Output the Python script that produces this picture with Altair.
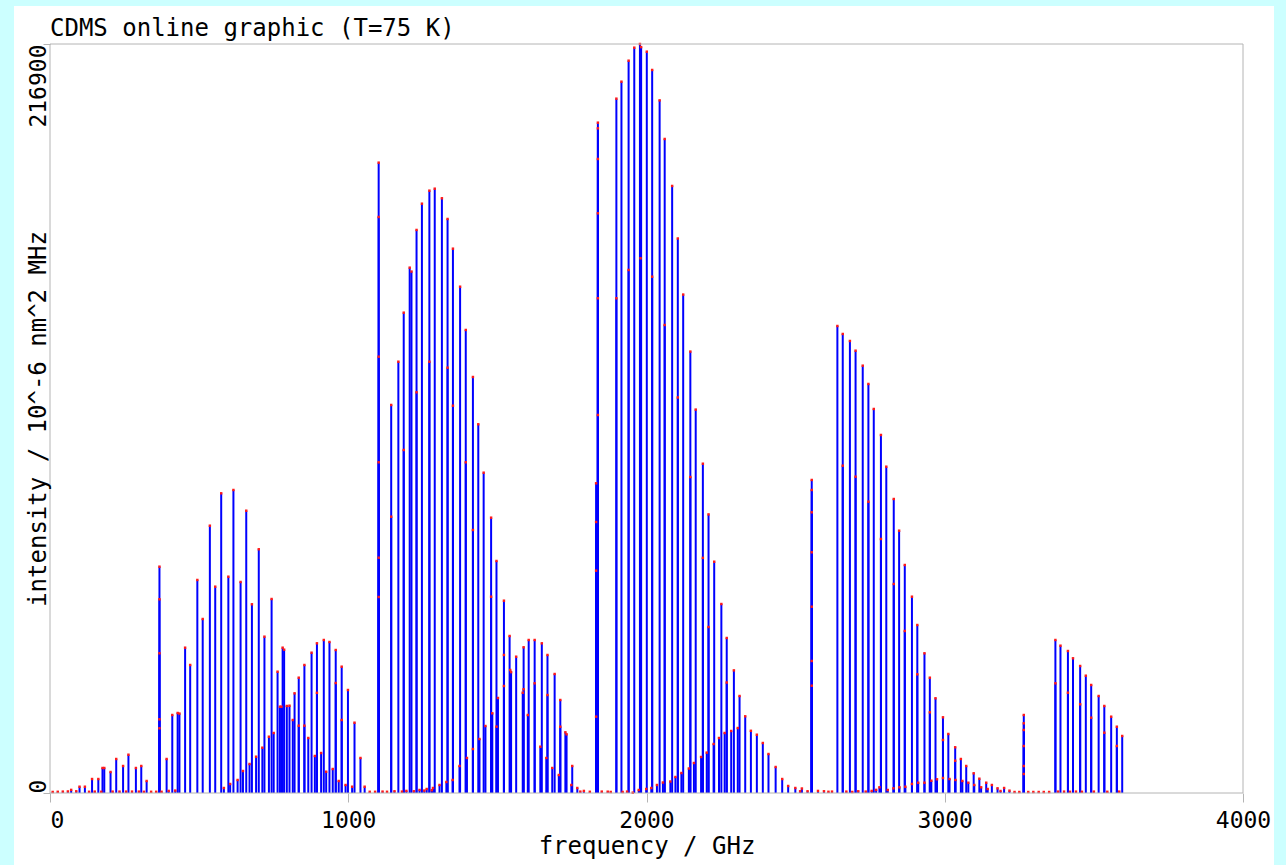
import altair as alt
import pandas as pd

FONT = "DejaVu Sans Mono"
GRAY = "#b4b4b4"
TITLE = "CDMS online graphic (T=75 K)"

# (frequency GHz, intensity 10^-6 nm^2 MHz)
tiny = [(9, 300), (26, 350), (43, 400), (60, 450), (71, 900), (88, 500), (131, 350), (150, 400),
        (172, 350), (210, 400), (233, 400), (255, 400), (275, 400), (298, 400), (315, 350), (339, 350),
        (356, 350), (374, 350), (398, 600), (420, 700), (1055, 1820), (1072, 350), (1090, 350),
        (1115, 400), (1130, 350), (1155, 500), (1180, 400), (1195, 600), (1220, 500), (1255, 700),
        (1280, 800), (1778, 400), (1790, 600), (1810, 350), (1850, 400), (1880, 300), (1920, 300),
        (1935, 400), (2515, 500), (2521, 1300), (2540, 500), (2575, 600), (2595, 500), (2610, 350),
        (2622, 400), (2670, 400), (2690, 300), (2710, 500), (2735, 400), (2755, 600), (2770, 900),
        (3187, 580), (3199, 1450), (3217, 670), (3234, 290), (3250, 290), (3280, 290), (3297, 290),
        (3315, 290), (3332, 290), (3350, 290), (3380, 400), (3400, 400), (3420, 350), (3440, 400),
        (3460, 350), (3500, 400), (3545, 350), (3585, 400)]

band1_small = [(99, 1820), (117, 1820), (141, 4050), (162, 4050), (176, 7240), (182, 7240), (203, 6080),
               (222, 9850), (245, 7820), (263, 11090), (288, 7240), (306, 7820), (324, 3480)]

band1_main = [(367, 65540), (367, 56100), (367, 40460), (367, 21340), (367, 18740), (391, 9850),
              (410, 22590), (428, 23170), (434, 23000), (453, 42080), (470, 37070), (494, 61690),
              (512, 50390), (536, 77410), (554, 59750), (574, 86790), (598, 62640), (615, 87750),
              (639, 61110), (658, 81750), (677, 54650), (700, 70580), (719, 45270), (743, 56180),
              (763, 35130), (780, 42080), (785, 41500), (803, 25280), (820, 28870), (834, 33390),
              (853, 37070), (877, 40630), (895, 43350), (895, 29000), (918, 44310), (937, 43730),
              (958, 41410), (958, 31850), (978, 36580), (978, 21140), (999, 29830), (1021, 20360),
              (1041, 10140)]

band1_second = [(583, 1450), (604, 2610), (629, 3770), (647, 6370), (669, 8400), (691, 10510),
                (712, 13120), (734, 16300), (750, 17380), (771, 25000), (776, 24990), (794, 25200),
                (814, 21140), (834, 19500), (853, 19500), (866, 15930), (888, 10720), (909, 11580),
                (926, 6170), (948, 6950), (968, 3480), (991, 2320), (1013, 1820)]

band2_main = [(1102, 182540), (1102, 166810), (1102, 126350), (1102, 95770), (1102, 68140),
              (1102, 56760), (1144, 112370), (1144, 80020), (1168, 124900), (1186, 139100),
              (1186, 99330), (1206, 152130), (1212, 151000), (1229, 163050), (1229, 116040),
              (1247, 170660), (1272, 174430), (1272, 124900), (1290, 175000), (1314, 172230),
              (1333, 166230), (1333, 123170), (1351, 157630), (1351, 112160), (1375, 146620),
              (1394, 134090), (1394, 95770), (1418, 120470), (1418, 76160), (1436, 106780),
              (1454, 92760), (1479, 79730), (1479, 56850), (1497, 67190), (1497, 19200),
              (1522, 55690), (1522, 39970), (1522, 30990), (1541, 45470), (1563, 39470),
              (1588, 42200), (1588, 30030), (1605, 44310), (1625, 44310), (1625, 31770),
              (1649, 43350), (1668, 39970), (1668, 28380), (1692, 34460), (1711, 26930),
              (1711, 19200), (1728, 17580), (1732, 17000), (1751, 7820), (1768, 1450)]

band2_second = [(1239, 870), (1263, 1160), (1284, 1450), (1306, 2320), (1329, 3190), (1350, 3770),
                (1373, 7820), (1398, 10140), (1418, 12740), (1440, 15640), (1460, 19400),
                (1483, 23080), (1502, 27510), (1543, 35620), (1546, 35000), (1585, 29050),
                (1602, 22590), (1644, 13410), (1664, 10140), (1684, 7240), (1706, 5210), (1748, 2320)]

band3_main = [(1831, 89690), (1831, 78480), (1831, 64380), (1831, 22100), (1837, 194120),
              (1837, 192490), (1837, 183610), (1837, 167880), (1837, 143270), (1837, 109470),
              (1899, 201070), (1899, 143270), (1916, 205990), (1940, 212070), (1940, 151460),
              (1959, 215840), (1978, 216900), (1982, 216000), (1980, 154850), (2001, 214680),
              (2019, 209380), (2019, 149520), (2044, 200580), (2061, 189400), (2061, 135530),
              (2086, 175790), (2105, 160580), (2105, 114540), (2123, 144340), (2147, 127830),
              (2147, 91510), (2165, 111030), (2189, 95360), (2189, 68090), (2208, 80680),
              (2208, 48070), (2227, 66980), (2251, 54730), (2269, 44890), (2269, 32000),
              (2293, 35510), (2312, 28090), (2331, 22210), (2350, 18010), (2370, 16880),
              (2390, 14480), (2409, 11290), (2433, 7530), (2455, 4050), (2475, 2030), (2499, 1450)]

band3_second = [(1870, 380), (1954, 90), (1974, 870), (1999, 1160), (2016, 1450), (2035, 2320),
                (2055, 3040), (2080, 3330), (2097, 4630), (2117, 5790), (2142, 7100), (2159, 8690),
                (2183, 10430), (2202, 11700), (2225, 14190), (2243, 15930), (2262, 17380),
                (2284, 17960), (2306, 18820)]

band4_main = [(2554, 90650), (2554, 87750), (2554, 81290), (2554, 69710), (2554, 53950),
              (2554, 38230), (2554, 31070), (2640, 135240), (2658, 132930), (2658, 94790),
              (2682, 130900), (2701, 128090), (2701, 91600), (2725, 123750), (2744, 118450),
              (2744, 84360), (2762, 111210), (2786, 103680), (2786, 73560), (2804, 94500),
              (2829, 85140), (2829, 60530), (2847, 75960), (2866, 66030), (2866, 46920),
              (2890, 56850), (2908, 48650), (2908, 34370), (2932, 40460), (2950, 33390),
              (2950, 23370), (2969, 27430), (2994, 21920), (2994, 15350), (3012, 17090),
              (3035, 13240), (3035, 9350), (3054, 9850), (3072, 7820), (3097, 5710), (3116, 4140),
              (3139, 2980), (3158, 2320), (3177, 1360)]

band4_second = [(2781, 1650), (2809, 870), (2828, 1360), (2848, 1650), (2868, 1820), (2890, 2610),
                (2911, 2980), (2932, 2980), (2955, 3560), (2974, 3970), (2994, 4340), (3016, 4050),
                (3036, 3770), (3059, 3480), (3079, 2980), (3099, 2320), (3122, 1650), (3144, 1160)]

band5_main = [(3265, 22590), (3265, 20190), (3265, 18250), (3265, 13610), (3265, 7820), (3265, 5500),
              (3371, 44310), (3371, 31770), (3388, 42660), (3413, 41120), (3413, 29050),
              (3430, 39010), (3454, 36780), (3454, 25690), (3473, 33970), (3491, 31280),
              (3491, 21810), (3516, 28090), (3535, 25200), (3535, 17460), (3558, 22100),
              (3577, 19200), (3577, 13610), (3595, 16510)]

x_ticks = [0, 1000, 2000, 3000, 4000]
y_ticks = [0, 216900]

series = [tiny, band1_small, band1_main, band1_second, band2_main, band2_second,
          band3_main, band3_second, band4_main, band4_second, band5_main]
rows = [{"freq": f, "intensity": i} for s in series for (f, i) in s]
df = pd.DataFrame(rows)

x_axis = alt.Axis(values=x_ticks, title="frequency / GHz", grid=False, domain=False,
                  labelFont=FONT, labelFontSize=23, labelColor="black",
                  titleFont=FONT, titleFontSize=24, titleFontWeight="normal", titleColor="black",
                  tickColor=GRAY, tickSize=9, labelPadding=25, labelBaseline="alphabetic",
                  labelAlign={"condition": {"test": "datum.value == 0", "value": "left"}, "value": "center"},
                  labelOverlap=False, titleX=596.5, titleY=60, titleBaseline="alphabetic",
                  titleAlign="center", zindex=1, format="d")
y_axis = alt.Axis(values=y_ticks, title="intensity / 10^-6 nm^2 MHz", grid=False, domain=False,
                  labelFont=FONT, labelFontSize=23, labelColor="black", labelAngle=270,
                  labelAlign={"condition": {"test": "datum.value == 0", "value": "left"}, "value": "right"},
                  labelBaseline="alphabetic", labelOverlap=False,
                  titleFont=FONT, titleFontSize=24, titleFontWeight="normal", titleColor="black",
                  tickColor=GRAY, tickSize=7, labelPadding=-2, titleAngle=270, titleX=-5,
                  titleY=374.5, titleBaseline="alphabetic", titleAlign="center", zindex=1, format="d")

x_enc = alt.X("freq:Q", scale=alt.Scale(domain=[0, 4000], nice=False, zero=False), axis=x_axis)
y_enc = alt.Y("intensity:Q", scale=alt.Scale(domain=[0, 216900], nice=False), axis=y_axis)

one = pd.DataFrame({"k": [0]})
panel = alt.Chart(one).mark_rect(color="white").encode(
    x=alt.value(-36), x2=alt.value(1224), y=alt.value(-38), y2=alt.value(830))

sticks = alt.Chart(df).mark_rule(color="#0000ff", strokeWidth=2).encode(
    x=x_enc, y=y_enc, y2=alt.datum(0))
dots = alt.Chart(df).mark_square(color="#ff1a1a", size=6, opacity=1).encode(x=x_enc, y=y_enc)

frame = alt.Chart(one).mark_rect(fillOpacity=0, stroke=GRAY, strokeWidth=1).encode(
    x=alt.value(0), x2=alt.value(1193), y=alt.value(0), y2=alt.value(749))

title = alt.Chart(pd.DataFrame({"t": [TITLE]})).mark_text(
    font=FONT, fontSize=24, color="black", align="left", baseline="alphabetic").encode(
    text="t:N", x=alt.value(0), y=alt.value(-8))

chart = alt.layer(panel, sticks, dots, frame, title).properties(
    width=1193, height=749,
    autosize=alt.AutoSizeParams(type="none"),
    padding={"left": 50, "top": 44, "right": 43, "bottom": 72},
    background="#ccffff",
).configure_view(stroke="transparent")

chart.save("out.html", embed_options={"renderer": "svg", "actions": False})
